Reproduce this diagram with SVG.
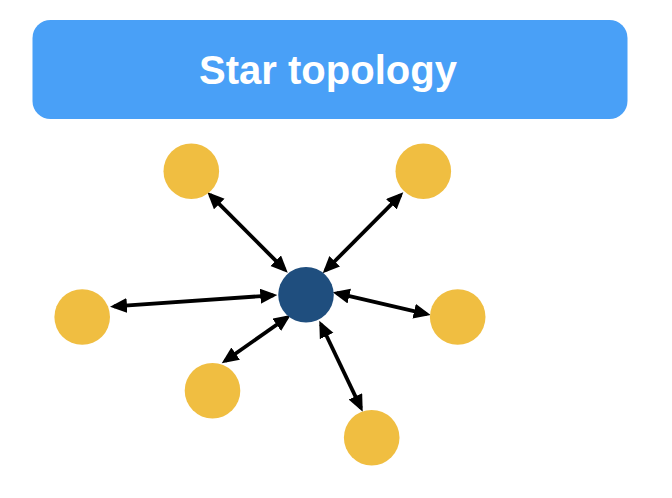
<svg xmlns="http://www.w3.org/2000/svg" width="672" height="498" viewBox="0 0 672 498">
<defs>
<style>
.outer{fill:#F0BE41}
.hub{fill:#1F4E7E}
.link{stroke:#000;stroke-width:3.8;fill:none;marker-start:url(#ah);marker-end:url(#ah)}
.title{font-family:"Liberation Sans",Arial,sans-serif;font-weight:bold;font-size:40px;fill:#fff}
</style>
<marker id="ah" markerUnits="userSpaceOnUse" markerWidth="18" markerHeight="16" refX="13" refY="7.5" orient="auto-start-reverse">
<path d="M0,0 L17,7.5 L0,15 z" fill="#000"/>
</marker>
</defs>
<rect width="672" height="498" fill="#fff"/>
<g id="banner">
<rect x="32.5" y="20" width="595" height="99" rx="18" ry="18" fill="#49A0F7"/>
<text class="title" x="328" y="83.5" text-anchor="middle">Star topology</text>
</g>
<g id="connectors">
<line class="link" x1="210.1" y1="194.8" x2="284.9" y2="269.9"/>
<line class="link" x1="400.5" y1="195.1" x2="325.5" y2="270.5"/>
<line class="link" x1="114" y1="306.4" x2="273.3" y2="295.3"/>
<line class="link" x1="336.6" y1="293.2" x2="426.8" y2="314.1"/>
<line class="link" x1="225" y1="361" x2="287.4" y2="317.3"/>
<line class="link" x1="321" y1="324.3" x2="361" y2="408.1"/>
</g>
<g id="hub"><circle class="hub" cx="306" cy="294.8" r="27.8"/></g>
<g id="node-tl"><circle class="outer" cx="191.3" cy="171.2" r="27.8"/></g>
<g id="node-tr"><circle class="outer" cx="423.3" cy="171.2" r="27.8"/></g>
<g id="node-l"><circle class="outer" cx="82.2" cy="317" r="27.8"/></g>
<g id="node-r"><circle class="outer" cx="457.7" cy="317" r="27.8"/></g>
<g id="node-bl"><circle class="outer" cx="212.5" cy="390.7" r="27.8"/></g>
<g id="node-b"><circle class="outer" cx="371.7" cy="437.7" r="27.8"/></g>
</svg>
